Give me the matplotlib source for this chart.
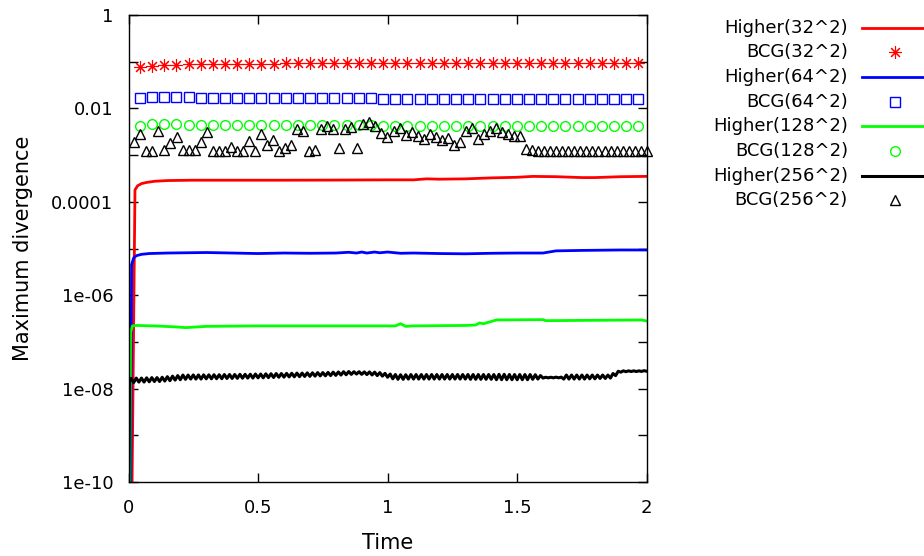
"""
Maximum divergence vs time, Higher-order scheme vs BCG at four grid sizes
"""

import numpy as np
import matplotlib
matplotlib.use("Agg")
import matplotlib.pyplot as plt
from matplotlib.lines import Line2D

# Higher(32^2)
red_t = [0.012, 0.025, 0.035, 0.05, 0.07, 0.1, 0.15, 0.25, 0.4, 0.6, 0.8, 1.0,
         1.1, 1.15, 1.2, 1.3, 1.4, 1.5, 1.56, 1.65, 1.75, 1.8, 1.9, 2.0]
red_v = [1e-11, 1.8e-4, 2.2e-4, 2.45e-4, 2.6e-4, 2.75e-4, 2.85e-4, 2.9e-4, 2.9e-4,
         2.9e-4, 2.92e-4, 2.95e-4, 2.95e-4, 3.1e-4, 3.05e-4, 3.1e-4, 3.25e-4,
         3.35e-4, 3.5e-4, 3.45e-4, 3.3e-4, 3.3e-4, 3.45e-4, 3.5e-4]

# Higher(64^2)
blue_t = [0.008, 0.012, 0.02, 0.03, 0.05, 0.08, 0.15, 0.3, 0.4, 0.5, 0.6, 0.7, 0.8,
          0.85, 0.88, 0.9, 0.92, 0.95, 0.97, 1.0, 1.05, 1.1, 1.2, 1.3, 1.4, 1.5,
          1.6, 1.65, 1.75, 1.9, 2.0]
blue_v = [1e-11, 4.5e-6, 6.3e-6, 7.0e-6, 7.5e-6, 7.8e-6, 8.0e-6, 8.2e-6, 8.0e-6,
          7.8e-6, 8.0e-6, 7.9e-6, 8.0e-6, 8.3e-6, 8.0e-6, 8.4e-6, 8.0e-6, 8.4e-6,
          8.1e-6, 8.4e-6, 7.9e-6, 8.0e-6, 7.8e-6, 7.7e-6, 7.9e-6, 8.0e-6, 8.0e-6,
          8.9e-6, 9.1e-6, 9.3e-6, 9.3e-6]

# Higher(128^2)
green_t = [0.004, 0.008, 0.015, 0.03, 0.1, 0.18, 0.22, 0.3, 0.5, 0.8, 1.03, 1.05,
           1.07, 1.1, 1.3, 1.34, 1.355, 1.37, 1.42, 1.6, 1.61, 1.8, 1.98, 2.0]
green_v = [1e-11, 1.6e-7, 2.2e-7, 2.25e-7, 2.2e-7, 2.1e-7, 2.02e-7, 2.15e-7, 2.2e-7,
           2.2e-7, 2.2e-7, 2.45e-7, 2.15e-7, 2.2e-7, 2.25e-7, 2.3e-7, 2.55e-7,
           2.45e-7, 2.95e-7, 3.0e-7, 2.85e-7, 2.9e-7, 2.95e-7, 2.8e-7]

# Higher(256^2) is noisy: upper envelope at t=0.01,0.03,...,1.99 and lower
# envelope at t=0.02,0.04,...,2.00, both in units of 1e-8
black_t0 = [0.0, 0.004]
black_v0 = [1e-11, 1.5e-8]
black_hi = [1.65, 1.68, 1.68, 1.7, 1.72, 1.72, 1.75, 1.8, 1.85, 1.9,
            1.95, 1.95, 1.96, 1.96, 1.97, 1.97, 1.98, 1.98, 2.0, 2.0,
            2.0, 2.02, 2.02, 2.03, 2.05, 2.05, 2.07, 2.08, 2.1, 2.1,
            2.12, 2.13, 2.15, 2.15, 2.17, 2.18, 2.2, 2.2, 2.22, 2.25,
            2.27, 2.3, 2.32, 2.3, 2.3, 2.28, 2.27, 2.25, 2.2, 2.12,
            2.05, 2.0, 1.98, 1.98, 2.0, 2.0, 2.0, 2.0, 2.0, 2.0,
            2.0, 2.0, 2.0, 2.0, 2.0, 2.0, 2.0, 2.0, 2.0, 2.0,
            2.0, 2.02, 2.02, 2.0, 2.0, 2.0, 2.0, 2.0, 1.98, 1.9,
            1.75, 1.75, 1.76, 1.76, 1.95, 1.95, 1.95, 1.95, 1.95, 1.95,
            1.95, 1.95, 1.95, 2.1, 2.35, 2.4, 2.4, 2.4, 2.4, 2.42]
black_lo = [1.35, 1.38, 1.38, 1.4, 1.42, 1.42, 1.45, 1.48, 1.52, 1.55,
            1.58, 1.6, 1.6, 1.6, 1.62, 1.62, 1.63, 1.63, 1.65, 1.65,
            1.66, 1.67, 1.68, 1.68, 1.7, 1.7, 1.72, 1.73, 1.75, 1.76,
            1.78, 1.79, 1.8, 1.82, 1.83, 1.85, 1.87, 1.88, 1.9, 1.92,
            1.95, 1.98, 2.02, 2.05, 2.02, 2.0, 1.96, 1.9, 1.85, 1.75,
            1.62, 1.58, 1.58, 1.6, 1.6, 1.6, 1.6, 1.6, 1.6, 1.6,
            1.6, 1.6, 1.6, 1.6, 1.6, 1.58, 1.58, 1.58, 1.58, 1.58,
            1.55, 1.55, 1.55, 1.55, 1.55, 1.55, 1.55, 1.58, 1.6, 1.68,
            1.7, 1.7, 1.7, 1.6, 1.6, 1.6, 1.6, 1.6, 1.62, 1.62,
            1.65, 1.65, 1.68, 1.9, 2.25, 2.3, 2.32, 2.32, 2.33, 2.35]

# BCG 32/64/128 share the same output times
bcg_t = np.linspace(0.044, 1.968, 42)
bcg32 = [0.0757, 0.0808, 0.0836, 0.0861, 0.0875, 0.089, 0.0891, 0.0905, 0.091, 0.091,
         0.0915, 0.0915, 0.092, 0.092, 0.092, 0.0923, 0.0923, 0.0923, 0.0923, 0.0923,
         0.0923, 0.0923, 0.0923, 0.0923, 0.0923, 0.0923, 0.0923, 0.0923, 0.0923, 0.0923,
         0.093, 0.093, 0.094, 0.095, 0.096, 0.095, 0.095, 0.094, 0.094, 0.094,
         0.094, 0.094]
bcg64 = [0.0164, 0.0178, 0.0178, 0.0178, 0.0172, 0.0168, 0.0166, 0.0165, 0.0165, 0.0164,
         0.0164, 0.0164, 0.0164, 0.0164, 0.0164, 0.0164, 0.0163, 0.0163, 0.0163, 0.0163,
         0.0162, 0.0162, 0.0162, 0.0162, 0.0162, 0.0162, 0.0162, 0.0161, 0.0161, 0.0161,
         0.0161, 0.0161, 0.0161, 0.0161, 0.0161, 0.0161, 0.0161, 0.0161, 0.0161, 0.0161,
         0.0161, 0.0161]
bcg128 = [0.00425, 0.00455, 0.00465, 0.0046, 0.0045, 0.0044, 0.0044, 0.0044, 0.0044, 0.0044,
          0.0044, 0.0044, 0.0044, 0.0044, 0.0044, 0.0044, 0.0044, 0.0044, 0.0044, 0.0044,
          0.0043, 0.0043, 0.0043, 0.0043, 0.0043, 0.0043, 0.0043, 0.0043, 0.0043, 0.0043,
          0.00425, 0.00425, 0.00425, 0.00425, 0.00425, 0.00425, 0.00425, 0.00425, 0.00425,
          0.00425, 0.00425, 0.00425]

# BCG(256^2), finer output step
bcg256_t = np.linspace(0.0224, 2.0, 86)
bcg256 = [1.93e-3, 2.78e-3, 1.24e-3, 1.24e-3, 3.32e-3, 1.28e-3, 1.84e-3, 2.47e-3, 1.26e-3,
          1.26e-3, 1.26e-3, 1.87e-3, 3.11e-3, 1.20e-3, 1.20e-3, 1.24e-3, 1.46e-3, 1.20e-3,
          1.20e-3, 2.0e-3, 1.20e-3, 2.82e-3, 1.64e-3, 2.10e-3, 1.20e-3, 1.43e-3, 1.64e-3,
          3.56e-3, 3.32e-3,
          1.24e-3, 1.28e-3, 3.66e-3, 4.25e-3, 3.56e-3, 1.43e-3, 3.56e-3, 4.04e-3, 1.43e-3,
          4.69e-3, 5.10e-3, 4.19e-3, 3.0e-3, 2.47e-3, 3.27e-3, 3.73e-3, 2.72e-3, 3.16e-3,
          2.55e-3, 2.17e-3, 2.82e-3, 2.47e-3, 2.10e-3, 2.35e-3, 1.66e-3, 1.93e-3, 3.32e-3,
          3.73e-3,
          2.17e-3, 2.82e-3, 3.32e-3, 3.73e-3, 3.11e-3, 2.82e-3, 2.55e-3, 2.55e-3, 1.35e-3,
          1.28e-3] + [1.20e-3] * 19

labels = ['Higher(32^2)', 'BCG(32^2)', 'Higher(64^2)', 'BCG(64^2)',
          'Higher(128^2)', 'BCG(128^2)', 'Higher(256^2)', 'BCG(256^2)']
xticks = [0, 0.5, 1, 1.5, 2]
xticklabels = ['0', '0.5', '1', '1.5', '2']
yticks = [1e-10, 1e-9, 1e-8, 1e-7, 1e-6, 1e-5, 1e-4, 1e-3, 1e-2, 1e-1, 1]
yticklabels = ['1e-10', '', '1e-08', '', '1e-06', '', '0.0001', '', '0.01', '', '1']

plt.rcParams['font.family'] = ['DejaVu Sans']

W, H = 924, 556
fig = plt.figure(figsize=(W / 100, H / 100), dpi=100)
ax = fig.add_axes([128.5 / W, 1 - 482 / H, (646.7 - 128.5) / W, (482 - 15) / H])

lw = 2.0
ms = 7
styles = [
    dict(color='#ff0000', lw=lw),
    dict(color='#ff0000', ls='none', marker=(8, 2, 0), ms=9, mew=0.8),
    dict(color='#0000ff', lw=lw),
    dict(color='#0000ff', ls='none', marker='s', ms=ms, mfc='none', mew=1),
    dict(color='#00ff00', lw=lw),
    dict(color='#00ff00', ls='none', marker='o', ms=ms, mfc='none', mew=1),
    dict(color='black', lw=2.2),
    dict(color='black', ls='none', marker='^', ms=ms, mfc='none', mew=1),
]

# interleave the two envelopes into one zig-zag trace
n = len(black_hi)
black_t = black_t0 + list(np.round(np.arange(1, 2 * n + 1) * 0.01, 3))
black_all = black_v0 + list(np.column_stack([black_hi, black_lo]).ravel() * 1e-8)

series = [(red_t, red_v), (bcg_t, bcg32), (blue_t, blue_v), (bcg_t, bcg64),
          (green_t, green_v), (bcg_t, bcg128), (black_t, black_all), (bcg256_t, bcg256)]

for (t, v), st in zip(series, styles):
    ax.plot(t, v, clip_on=(st.get('ls') != 'none'), **st)

ax.set_yscale('log')
ax.set_xlim(0, 2)
ax.set_ylim(1e-10, 1)
ax.set_xticks(xticks)
ax.set_xticklabels(xticklabels)
ax.set_yticks(yticks)
ax.set_yticklabels(yticklabels)
ax.yaxis.set_minor_locator(matplotlib.ticker.NullLocator())
ax.tick_params(direction='in', length=6.5, width=1, top=True, right=True,
               labelsize=13, pad=12)
ax.tick_params(axis='y', pad=11)
for s in ax.spines.values():
    s.set_linewidth(1)

ax.set_xlabel('Time', fontsize=15)
ax.xaxis.set_label_coords(0.5, -0.11)
ax.set_ylabel('Maximum divergence', fontsize=15)
ax.yaxis.set_label_coords(-0.184, 0.5)

# legend drawn by hand: right-aligned text, sample to the right
row_y = [27.7, 52.3, 76.7, 101.7, 126, 151, 175.7, 200]
for lab, st, y in zip(labels, styles, row_y):
    fy = 1 - y / H
    fig.text(848 / W, fy, lab, ha='right', va='center', fontsize=13)
    if st.get('ls') == 'none':
        fig.add_artist(Line2D([895 / W], [fy], transform=fig.transFigure, **st))
    else:
        fig.add_artist(Line2D([862 / W, 1.0], [fy, fy], transform=fig.transFigure, **st))

fig.savefig('out.png', dpi=100)
